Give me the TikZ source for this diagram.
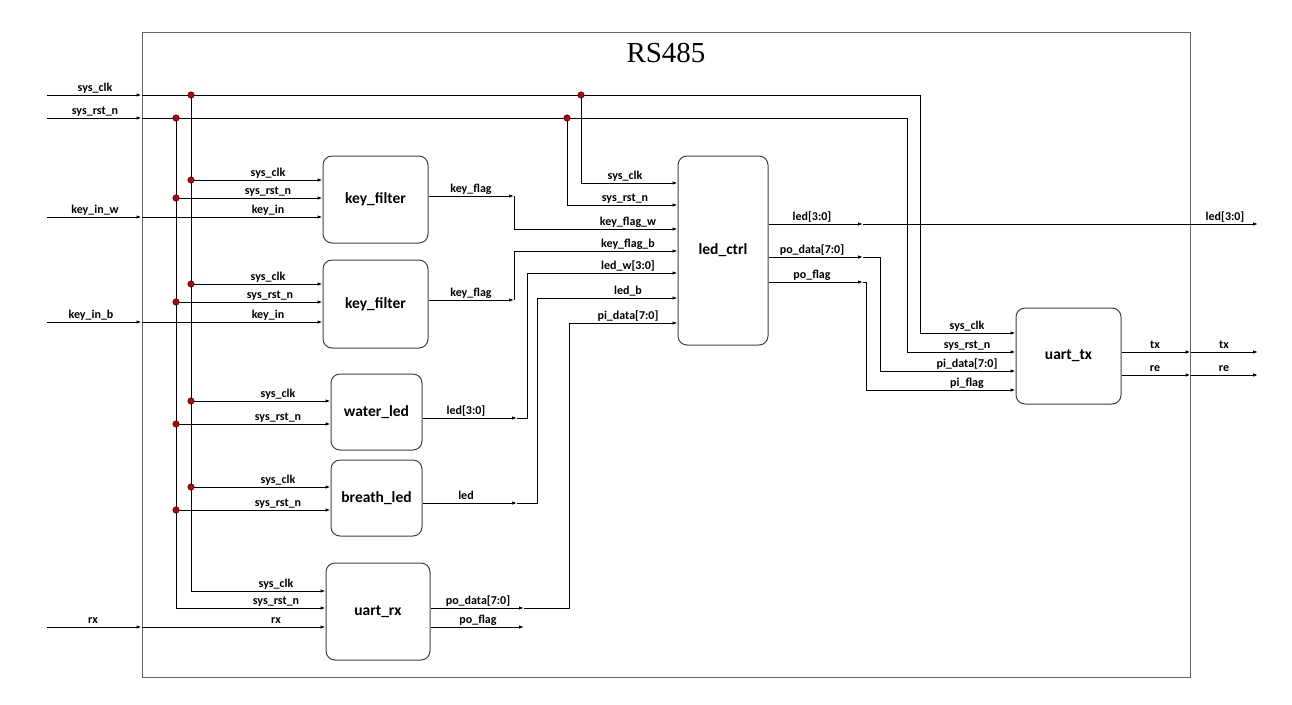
\documentclass[tikz,border=0pt]{standalone}
\usepackage{fontspec}
\setsansfont{Carlito}
\setmainfont{Liberation Serif}
\usetikzlibrary{arrows.meta,calc}
\begin{document}
\begin{tikzpicture}[x=1pt,y=-1pt,
  wire/.style={line width=1pt, black},
  arr/.style={wire, -{Latex[length=5pt,width=3.5pt]}},
  blk/.style={draw=black!75, line width=1pt, rounded corners=9pt, inner sep=0pt,
    font=\sffamily\bfseries\fontsize{15.5}{17}\selectfont},
  lbl/.style={anchor=base, yshift=3.5pt, inner sep=0pt,
    font=\sffamily\bfseries\fontsize{12}{14}\selectfont},
  jdot/.style={circle, fill=red!75!black, draw=black, line width=0.4pt, inner sep=0pt, minimum size=6.5pt}]
\useasboundingbox (0,0) rectangle (1292,704);
% frame and title
\node[draw=black!60, line width=1pt, minimum width=1048pt, minimum height=645pt, inner sep=0pt] (frame) at (666,354.5) {};
\node[font=\fontsize{29}{32}\selectfont, anchor=base] (title) at (666,62) {RS485};
% blocks
\node[blk, minimum width=105pt, minimum height=87pt] (kf1) at (375.5,199.5) {key\_filter};
\node[blk, minimum width=105pt, minimum height=88pt] (kf2) at (375.5,304) {key\_filter};
\node[blk, minimum width=91pt, minimum height=76pt] (wl) at (376.5,412) {water\_led};
\node[blk, minimum width=91pt, minimum height=76pt] (bl) at (376.5,498) {breath\_led};
\node[blk, minimum width=104pt, minimum height=97pt] (urx) at (378,611.5) {uart\_rx};
\node[blk, minimum width=90pt, minimum height=189pt] (lc) at (723,250.5) {led\_ctrl};
\node[blk, minimum width=105pt, minimum height=96pt] (utx) at (1068.5,356) {uart\_tx};
% input coordinates
\coordinate (iclk) at (47,95);
\coordinate (irst) at (47,118);
\coordinate (ikw) at (47,217);
\coordinate (ikb) at (47,322);
\coordinate (irx) at (47,627);
\coordinate (fclk) at (frame.west |- iclk);
\coordinate (frst) at (frame.west |- irst);
\coordinate (fkw) at (frame.west |- ikw);
\coordinate (fkb) at (frame.west |- ikb);
\coordinate (frx) at (frame.west |- irx);
% junctions
\coordinate (jc0) at (191,95);
\coordinate (jr0) at (176,118);
\coordinate (jc1) at (191,180);
\coordinate (jr1) at (176,198);
\coordinate (jc2) at (191,284);
\coordinate (jr2) at (176,302);
\coordinate (jc3) at (191,401);
\coordinate (jr3) at (176,424);
\coordinate (jc4) at (191,487);
\coordinate (jr4) at (176,510);
\coordinate (jc5) at (581,95);
\coordinate (jr5) at (567,118);
% inputs into frame
\draw[arr] (iclk) -- (fclk);
\draw[arr] (irst) -- (frst);
\draw[arr] (ikw) -- (fkw);
\draw[arr] (ikb) -- (fkb);
\draw[arr] (irx) -- (frx);
\node[lbl] at (95,95) {sys\_clk};
\node[lbl] at (95,118) {sys\_rst\_n};
\node[lbl] at (95,217) {key\_in\_w};
\node[lbl] at (91,322) {key\_in\_b};
\node[lbl] at (93,627) {rx};
% global clock / reset to uart_tx
\draw[arr] (fclk) -| (920,333) -- (utx.west |- 0,333);
\draw[arr] (frst) -| (907,352) -- (utx.west |- 0,352);
% buses
\draw[arr] (jc0) |- (urx.west |- 0,591);
\draw[arr] (jr0) |- (urx.west |- 0,608);
\draw[arr] (fkw) -- (kf1.west |- 0,217);
\draw[arr] (fkb) -- (kf2.west |- 0,322);
\draw[arr] (frx) -- (urx.west |- 0,627);
\draw[arr] (jc1) -- (kf1.west |- 0,180);
\draw[arr] (jr1) -- (kf1.west |- 0,198);
\draw[arr] (jc2) -- (kf2.west |- 0,284);
\draw[arr] (jr2) -- (kf2.west |- 0,302);
\draw[arr] (jc3) -- (wl.west |- 0,401);
\draw[arr] (jr3) -- (wl.west |- 0,424);
\draw[arr] (jc4) -- (bl.west |- 0,487);
\draw[arr] (jr4) -- (bl.west |- 0,510);
\node[lbl] at (268,180) {sys\_clk};
\node[lbl] at (268,198) {sys\_rst\_n};
\node[lbl] at (268,217) {key\_in};
\node[lbl] at (268,284) {sys\_clk};
\node[lbl] at (270,302) {sys\_rst\_n};
\node[lbl] at (268,322) {key\_in};
\node[lbl] at (278,401) {sys\_clk};
\node[lbl] at (278,424) {sys\_rst\_n};
\node[lbl] at (278,487) {sys\_clk};
\node[lbl] at (278,510) {sys\_rst\_n};
\node[lbl] at (276,591) {sys\_clk};
\node[lbl] at (276,608) {sys\_rst\_n};
\node[lbl] at (276,627) {rx};
% block outputs to led_ctrl
\coordinate (m1) at (514,196);
\coordinate (m2) at (514,300);
\coordinate (m3) at (517,418);
\coordinate (m4) at (517,503);
\coordinate (m5) at (524,608);
\coordinate (m6) at (524,627);
\draw[arr] (kf1.east |- m1) -- (m1);
\draw[arr] (m1) |- (lc.west |- 0,229);
\draw[arr] (kf2.east |- m2) -- (m2);
\draw[arr] (m2) |- (lc.west |- 0,251);
\draw[arr] (wl.east |- m3) -- (m3);
\draw[arr] (m3) -- (527,418) |- (lc.west |- 0,273);
\draw[arr] (bl.east |- m4) -- (m4);
\draw[arr] (m4) -- (537,503) |- (lc.west |- 0,298);
\draw[arr] (urx.east |- m5) -- (m5);
\draw[arr] (m5) -- (569,608) |- (lc.west |- 0,323);
\draw[arr] (urx.east |- m6) -- (m6);
\node[lbl] at (471,196) {key\_flag};
\node[lbl] at (471,300) {key\_flag};
\node[lbl] at (466,418) {led[3:0]};
\node[lbl] at (466,503) {led};
\node[lbl] at (478,608) {po\_data[7:0]};
\node[lbl] at (478,627) {po\_flag};
% clock/reset into led_ctrl
\draw[arr] (jc5) |- (lc.west |- 0,183);
\draw[arr] (jr5) |- (lc.west |- 0,205);
\node[lbl] at (625,183) {sys\_clk};
\node[lbl] at (625,205) {sys\_rst\_n};
\node[lbl] at (628,229) {key\_flag\_w};
\node[lbl] at (628,251) {key\_flag\_b};
\node[lbl] at (628,273) {led\_w[3:0]};
\node[lbl] at (628,298) {led\_b};
\node[lbl] at (628,323) {pi\_data[7:0]};
% led_ctrl outputs
\coordinate (n1) at (863,224);
\coordinate (n2) at (863,257);
\coordinate (n3) at (863,282);
\coordinate (oled) at (1258,224);
\draw[arr] (lc.east |- n1) -- (n1);
\draw[arr] (n1) -- (oled);
\draw[arr] (lc.east |- n2) -- (n2);
\draw[arr] (n2) -- (880,257) |- (utx.west |- 0,371);
\draw[arr] (lc.east |- n3) -- (n3);
\draw[arr] (n3) -- (866,282) |- (utx.west |- 0,390);
\node[lbl] at (812,224) {led[3:0]};
\node[lbl] at (812,257) {po\_data[7:0]};
\node[lbl] at (812,282) {po\_flag};
\node[lbl] at (1225,224) {led[3:0]};
% uart_tx
\node[lbl] at (967,333) {sys\_clk};
\node[lbl] at (967,352) {sys\_rst\_n};
\node[lbl] at (967,371) {pi\_data[7:0]};
\node[lbl] at (967,390) {pi\_flag};
\coordinate (otx) at (1258,352);
\coordinate (ore) at (1258,375);
\draw[arr] (utx.east |- otx) -- (frame.east |- otx);
\draw[arr] (frame.east |- otx) -- (otx);
\draw[arr] (utx.east |- ore) -- (frame.east |- ore);
\draw[arr] (frame.east |- ore) -- (ore);
\node[lbl] at (1155,352) {tx};
\node[lbl] at (1155,375) {re};
\node[lbl] at (1224,352) {tx};
\node[lbl] at (1224,375) {re};
% junction dots
\foreach \j in {jc0,jr0,jc1,jr1,jc2,jr2,jc3,jr3,jc4,jr4,jc5,jr5}
  \node[jdot] at (\j) {};
\end{tikzpicture}
\end{document}
